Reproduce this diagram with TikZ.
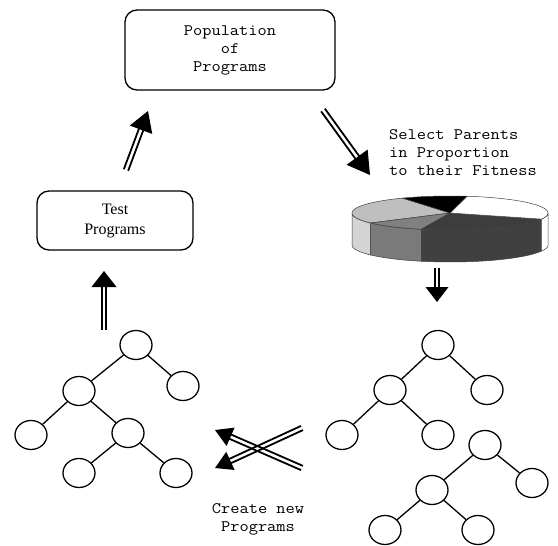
\documentclass[tikz,border=0pt]{standalone}
\usepackage{fontspec}
\setmainfont{Liberation Serif}
\setmonofont{Latin Modern Mono}[FakeStretch=1.12]
\usetikzlibrary{calc,shapes.geometric}

\tikzset{
  progbox/.style={draw, line width=1.3pt, rounded corners=12pt, inner sep=0pt},
  tnode/.style={ellipse, draw, line width=1.3pt, fill=white,
                minimum width=32pt, minimum height=29pt, inner sep=0pt},
  tedge/.style={line width=1.3pt},
  shaftline/.style={line width=1.8pt},
  monotext/.style={font=\fontsize{16}{18}\selectfont\ttfamily, inner sep=0pt},
  pieline/.style={draw=black!75, line width=0.5pt}
}

% double-lined arrow with a solid triangular head
% #1 start, #2 tip, #3 head length, #4 head width
\newcommand\fatarrow[4]{%
  \pgfmathsetlengthmacro\fashort{#3-1}%
  \pgfmathsetlengthmacro\fahalf{#4/2}%
  \coordinate (fa-end) at ($(#2)!\fashort!(#1)$);
  \coordinate (fa-base) at ($(#2)!#3pt!(#1)$);
  \draw[shaftline] ($(#1)!2.3pt!90:(fa-end)$) -- ($(fa-end)!2.3pt!-90:(#1)$);
  \draw[shaftline] ($(#1)!2.3pt!-90:(fa-end)$) -- ($(fa-end)!2.3pt!90:(#1)$);
  \fill (#2) -- ($(fa-base)!\fahalf!90:(#2)$) -- ($(fa-base)!\fahalf!-90:(#2)$) -- cycle;
}

% pie chart geometry
\def\pcx{450}\def\pcy{213}\def\prx{98}\def\pry{17}\def\pdep{32}
\newcommand\pieside[3]{%
  \path[pieline, fill=#3]
    plot[domain=#1:#2, samples=40] ({\pcx+\prx*cos(\x)},{\pcy-\pry*sin(\x)})
    -- plot[domain=#2:#1, samples=40] ({\pcx+\prx*cos(\x)},{\pcy+\pdep-\pry*sin(\x)})
    -- cycle;}
\newcommand\pietop[3]{%
  \path[pieline, fill=#3] (\pcx,\pcy)
    -- plot[domain=#1:#2, samples=40] ({\pcx+\prx*cos(\x)},{\pcy-\pry*sin(\x)})
    -- cycle;}

\begin{document}
\begin{tikzpicture}[x=1pt, y=-1pt]
  \useasboundingbox (0,0) rectangle (558,546);

  % boxes
  \node[progbox, monotext, align=center, minimum width=210pt, minimum height=80pt]
    (pop) at (230,50) {Population\\of\\Programs};
  \node[progbox, font=\fontsize{16}{20}\selectfont, align=center,
        minimum width=156pt, minimum height=59pt]
    (test) at (115,220.5) {Test\\Programs};

  % labels
  \node[monotext, align=left, anchor=north west] (sel) at (389,129)
    {Select Parents\\in Proportion\\to their Fitness};
  \node[monotext, align=center] (create) at (258,519) {Create new\\Programs};

  % fitness-proportionate pie
  \pieside{180}{216}{black!17}
  \pieside{216}{253}{black!52}
  \pieside{253}{339}{black!75}
  \pieside{339}{360}{white}
  \pietop{119}{216}{black!25}
  \pietop{216}{253}{black!50}
  \pietop{253}{339}{black!76}
  \pietop{-21}{80}{white}
  \pietop{80}{119}{black}

  % left tree
  \node[tnode] (l1) at (136,345) {};
  \node[tnode] (l2) at (79,391) {};
  \node[tnode] (l3) at (183,386) {};
  \node[tnode] (l4) at (31,435) {};
  \node[tnode] (l5) at (128,433) {};
  \node[tnode] (l6) at (79,473) {};
  \node[tnode] (l7) at (176,473) {};
  \draw[tedge] (l1) -- (l2) (l1) -- (l3) (l2) -- (l4) (l2) -- (l5)
               (l5) -- (l6) (l5) -- (l7);

  % right upper tree
  \node[tnode] (r1) at (438,345) {};
  \node[tnode] (r2) at (390,390) {};
  \node[tnode] (r3) at (487,390) {};
  \node[tnode] (r4) at (342,435) {};
  \node[tnode] (r5) at (438,435) {};
  \draw[tedge] (r1) -- (r2) (r1) -- (r3) (r2) -- (r4) (r2) -- (r5);

  % right lower tree
  \node[tnode] (s1) at (485,445) {};
  \node[tnode] (s2) at (432,490) {};
  \node[tnode] (s3) at (532,483) {};
  \node[tnode] (s4) at (385,530) {};
  \node[tnode] (s5) at (478,530) {};
  \draw[tedge] (s1) -- (s2) (s1) -- (s3) (s2) -- (s4) (s2) -- (s5);

  % cycle arrows
  \coordinate (a1s) at (126,170);  \coordinate (a1t) at (148,111);
  \coordinate (a2s) at (323,110);  \coordinate (a2t) at (370,175);
  \coordinate (a3s) at (437,268);  \coordinate (a3t) at (437,302);
  \coordinate (a4s) at (104,330);  \coordinate (a4t) at (104,271);
  \coordinate (a5s) at (302,428);  \coordinate (a5t) at (215,468);
  \coordinate (a6s) at (302,468);  \coordinate (a6t) at (215,430);
  \fatarrow{a1s}{a1t}{20}{24}
  \fatarrow{a2s}{a2t}{22}{26}
  \fatarrow{a3s}{a3t}{15}{23}
  \fatarrow{a4s}{a4t}{16}{25}
  \fatarrow{a5s}{a5t}{17}{20}
  \fatarrow{a6s}{a6t}{17}{20}
\end{tikzpicture}
\end{document}
